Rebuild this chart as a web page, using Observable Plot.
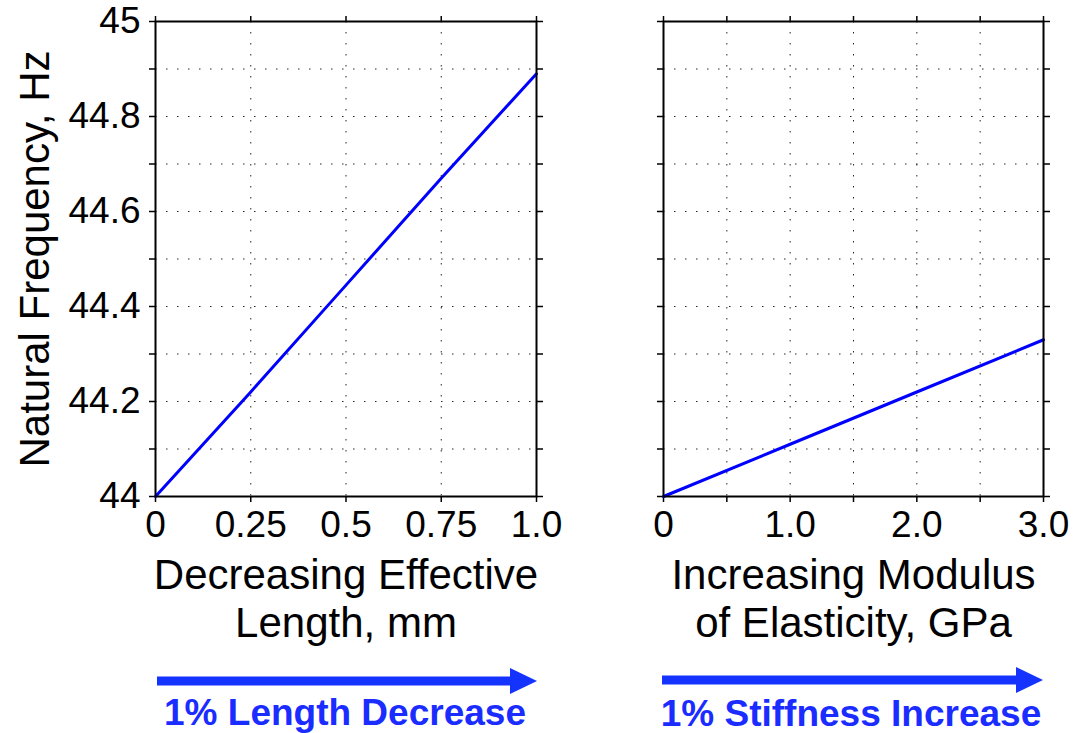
<!DOCTYPE html>
<html>
<head>
<meta charset="utf-8">
<script src="https://cdn.jsdelivr.net/npm/d3@7"></script>
<script src="https://cdn.jsdelivr.net/npm/@observablehq/plot@0.6"></script>
<style>
  html, body { margin: 0; padding: 0; background: #fff; }
  #wrap { position: relative; width: 1073px; height: 733px; overflow: hidden; font-family: "Liberation Sans", Arial, Helvetica, sans-serif; }
  .panel { position: absolute; top: 0; }
  .panel svg { overflow: visible; background: transparent; }
  .cap { position: absolute; font-weight: bold; font-size: 37px; color: #1a2cff; white-space: nowrap; transform: translateX(-50%); line-height: 1; }
</style>
</head>
<body>
<div id="wrap">
  <div id="left" class="panel" style="left:0px"></div>
  <div id="right" class="panel" style="left:560px"></div>
  <svg id="arrows" width="1073" height="733" style="position:absolute;left:0;top:0;pointer-events:none"></svg>
  <div class="cap" style="left:345px; top:694px">1% Length Decrease</div>
  <div class="cap" style="left:851px; top:695px">1% Stiffness Increase</div>
</div>
<script>
// ---- data ----
const lengthX = [0, 0.25, 0.5, 0.75, 1.0];                 // mm
const lengthFreq = [44.0, 44.22, 44.445, 44.67, 44.89];     // Hz
const modulusX = [0, 1.0, 2.0, 3.0];                        // GPa
const modulusFreq = [44.0, 44.11, 44.22, 44.33];            // Hz

const yTicks = [44.0, 44.1, 44.2, 44.3, 44.4, 44.5, 44.6, 44.7, 44.8, 44.9, 45.0];
const yLabelVals = ["44.0", "44.2", "44.4", "44.6", "44.8", "45.0"];
const yLabelText = ["44", "44.2", "44.4", "44.6", "44.8", "45"];

const lengthTicks = [0, 0.25, 0.5, 0.75, 1.0];
const lengthTickText = ["0", "0.25", "0.5", "0.75", "1.0"];
const modulusTicks = [0, 0.5, 1.0, 1.5, 2.0, 2.5, 3.0];
const modulusLabelVals = [0, 1.0, 2.0, 3.0];
const modulusTickText = ["0", "1.0", "2.0", "3.0"];

const yTitle = "Natural Frequency, Hz";
const lengthTitle = "Decreasing Effective\nLength, mm";
const modulusTitle = "Increasing Modulus\nof Elasticity, GPa";

const lineColor = "#0000ff";
const FONT = "'Liberation Sans', Arial, Helvetica, sans-serif";

const yMap = new Map(yLabelVals.map((v, i) => [v, yLabelText[i]]));
const yFmt = d => yMap.get(d.toFixed(1)) ?? "";
const lenMap = new Map(lengthTicks.map((v, i) => [v.toFixed(2), lengthTickText[i]]));
const lenFmt = d => lenMap.get(d.toFixed(2)) ?? "";
const modMap = new Map(modulusLabelVals.map((v, i) => [v.toFixed(2), modulusTickText[i]]));
const modFmt = d => modMap.get(d.toFixed(2)) ?? "";

const gridStyle = {stroke: "#000", strokeOpacity: 0.85, strokeWidth: 1, strokeDasharray: "1.5,9.5"};

function panel({xs, ys, xDomain, xTicks, xFmt, title, width, marginLeft, marginRight, showYLabels}) {
  const data = xs.map((x, i) => ({x, f: ys[i]}));
  const marks = [
    Plot.gridY(yTicks, gridStyle),
    Plot.gridX(xTicks, gridStyle),
    Plot.axisY(yTicks, {anchor: "left", tickSize: 6, tickPadding: 9, strokeWidth: 1.5,
      tickFormat: showYLabels ? yFmt : () => "", fontSize: 37, label: null}),
    Plot.axisY(yTicks, {anchor: "right", tickSize: 6, strokeWidth: 1.5, tickFormat: () => "", label: null}),
    Plot.axisX(xTicks, {anchor: "bottom", tickSize: 6, tickPadding: 8, strokeWidth: 1.5,
      tickFormat: xFmt, fontSize: 37, label: null}),
    Plot.axisX(xTicks, {anchor: "top", tickSize: 6, strokeWidth: 1.5, tickFormat: () => "", label: null}),
    Plot.line(data, {x: "x", y: "f", stroke: lineColor, strokeWidth: 3}),
    Plot.frame({stroke: "#000", strokeWidth: 2}),
    Plot.text([title], {frameAnchor: "bottom", lineAnchor: "top", dy: 58, lineHeight: 1.15,
      fontSize: 42, fill: "#000"})
  ];
  if (showYLabels) {
    marks.push(Plot.text([yTitle], {frameAnchor: "left", textAnchor: "middle", rotate: -90, dx: -120,
      fontSize: 42, fill: "#000"}));
  }
  return Plot.plot({
    width, height: 660,
    marginLeft, marginRight, marginTop: 21, marginBottom: 164,
    x: {domain: xDomain, label: null},
    y: {domain: [44, 45], label: null},
    style: {fontFamily: FONT, background: "transparent", overflow: "visible", color: "#000"},
    marks
  });
}

document.getElementById("left").append(panel({
  xs: lengthX, ys: lengthFreq, xDomain: [0, 1], xTicks: lengthTicks, xFmt: lenFmt,
  title: lengthTitle, width: 560, marginLeft: 155, marginRight: 24, showYLabels: true
}));
document.getElementById("right").append(panel({
  xs: modulusX, ys: modulusFreq, xDomain: [0, 3], xTicks: modulusTicks, xFmt: modFmt,
  title: modulusTitle, width: 513, marginLeft: 103, marginRight: 30, showYLabels: false
}));

// direction arrows under each panel
const arrowColor = "#1533ff";
const arrows = [
  {x1: 157, x2: 537, y: 681},
  {x1: 662, x2: 1043, y: 680}
];
const svg = d3.select("#arrows");
for (const a of arrows) {
  svg.append("rect").attr("x", a.x1).attr("y", a.y - 4.5).attr("width", a.x2 - a.x1 - 24).attr("height", 9).attr("fill", arrowColor);
  svg.append("path").attr("d", `M${a.x2 - 27},${a.y - 13}L${a.x2},${a.y}L${a.x2 - 27},${a.y + 13}Z`).attr("fill", arrowColor);
}
</script>
</body>
</html>
